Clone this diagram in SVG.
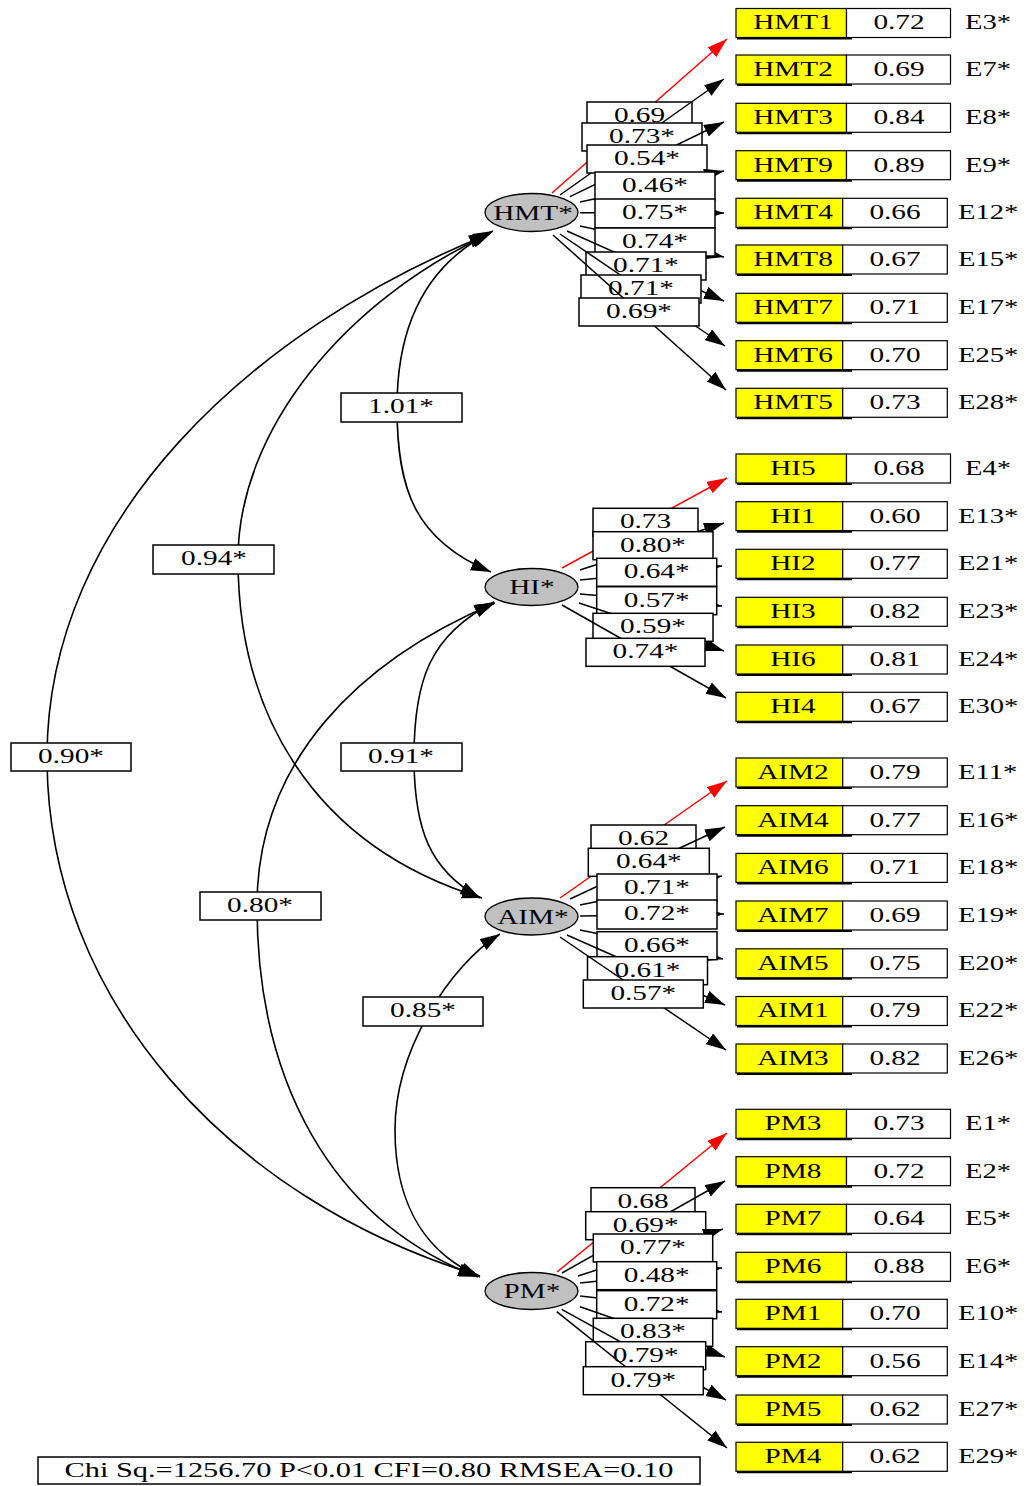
<svg xmlns="http://www.w3.org/2000/svg" width="1028" height="1486" viewBox="0 0 1028 1486">
<style>
.t{font-family:"Liberation Serif","Times New Roman",serif;font-size:22px;text-anchor:middle;fill:#000;transform-box:fill-box;transform-origin:50% 50%;transform:scaleX(1.33)}
.e{font-family:"Liberation Serif","Times New Roman",serif;font-size:22px;text-anchor:start;fill:#000;transform-box:fill-box;transform-origin:0% 50%;transform:scaleX(1.3)}
.y{fill:#ffff00;stroke:#000;stroke-width:1.2}
.w{fill:#fff;stroke:#000;stroke-width:1.2}
.sh{stroke:#000;stroke-width:2;fill:none}
.lb{fill:#fff;stroke:#000;stroke-width:1.5}
.ln{stroke:#000;stroke-width:1.5;fill:none;marker-end:url(#ah)}
.rd{stroke:#ff0000;stroke-width:1.5;fill:none;marker-end:url(#ahr)}
.cv{stroke:#000;stroke-width:1.6;fill:none;marker-start:url(#ah);marker-end:url(#ah)}
.el{fill:#c0c0c0;stroke:#000;stroke-width:1.3}
</style>
<defs>
<marker id="ah" markerUnits="userSpaceOnUse" markerWidth="22" markerHeight="14" refX="20" refY="6.5" orient="auto-start-reverse"><path d="M0,0 L20,6.5 L0,13 Z" fill="#000"/></marker>
<marker id="ahr" markerUnits="userSpaceOnUse" markerWidth="22" markerHeight="14" refX="20" refY="6.5" orient="auto"><path d="M0,0 L20,6.5 L0,13 Z" fill="#ff0000"/></marker>
</defs>
<rect width="1028" height="1486" fill="#fff"/>
<g id="connectors">
<path class="cv" d="M493,231 C430,262 397,320 397,407 C397,490 415,540 491,572"/>
<path class="cv" d="M491,233 C345,300 238,430 238,559 C238,710 310,845 482,898"/>
<path class="cv" d="M489,234 C250,330 47,520 47,757 C47,1000 230,1200 480,1276"/>
<path class="cv" d="M494,602 C430,635 414,680 414,757 C414,830 430,870 480,898"/>
<path class="cv" d="M495,603 C360,660 257,760 257,906 C257,1080 330,1220 478,1277"/>
<path class="cv" d="M500,934 C450,965 395,1050 395,1130 C395,1210 430,1255 480,1277"/>
<g id="corr-labels">
<rect class="lb" x="341" y="393" width="121" height="29"/><text class="t" x="401" y="413">1.01*</text>
<rect class="lb" x="153" y="545" width="121" height="29"/><text class="t" x="214" y="565">0.94*</text>
<rect class="lb" x="11" y="743" width="120" height="28"/><text class="t" x="71" y="763">0.90*</text>
<rect class="lb" x="341" y="743" width="121" height="28"/><text class="t" x="401" y="763">0.91*</text>
<rect class="lb" x="200" y="892" width="121" height="28"/><text class="t" x="260" y="912">0.80*</text>
<rect class="lb" x="363" y="997" width="120" height="29"/><text class="t" x="423" y="1017">0.85*</text>
</g>
<g id="HMT-loadings">
<path class="rd" d="M552,193 L727,39"/>
<rect class="lb" x="587" y="102" width="105" height="28"/><text class="t" x="639.5" y="122">0.69</text>
<path class="ln" d="M560,195 L724,79"/>
<rect class="lb" x="582" y="123" width="120" height="28"/><text class="t" x="642" y="143">0.73*</text>
<path class="ln" d="M570,196.7 L724,122"/>
<rect class="lb" x="587" y="145" width="120" height="28"/><text class="t" x="647" y="165">0.54*</text>
<path class="ln" d="M580,202 L724,171"/>
<rect class="lb" x="595" y="172" width="120" height="28"/><text class="t" x="655" y="192">0.46*</text>
<path class="ln" d="M580,212.7 L724,213"/>
<rect class="lb" x="595" y="199" width="120" height="29"/><text class="t" x="655" y="219">0.75*</text>
<path class="ln" d="M580,226 L724,257"/>
<rect class="lb" x="595" y="228" width="120" height="28"/><text class="t" x="655" y="248">0.74*</text>
<path class="ln" d="M567,231 L724,301"/>
<rect class="lb" x="586" y="252" width="120" height="28"/><text class="t" x="646" y="272">0.71*</text>
<path class="ln" d="M560,234 L725,346"/>
<rect class="lb" x="581" y="275" width="120" height="28"/><text class="t" x="641" y="295">0.71*</text>
<path class="ln" d="M553,235 L726,390"/>
<rect class="lb" x="579" y="298" width="120" height="28"/><text class="t" x="639" y="318">0.69*</text>
</g>
<g id="HI-loadings">
<path class="rd" d="M562,568 L727,478"/>
<rect class="lb" x="593" y="508.3" width="105" height="28"/><text class="t" x="645.5" y="528.3">0.73</text>
<path class="ln" d="M580,570 L724,523"/>
<rect class="lb" x="593" y="531.7" width="120" height="28"/><text class="t" x="653" y="551.7">0.80*</text>
<path class="ln" d="M580,580 L722,566"/>
<rect class="lb" x="596.7" y="558.3" width="120" height="28"/><text class="t" x="656.7" y="578.3">0.64*</text>
<path class="ln" d="M580,594 L722,606"/>
<rect class="lb" x="596.7" y="586.7" width="120" height="28"/><text class="t" x="656.7" y="606.7">0.57*</text>
<path class="ln" d="M579,603 L724,651"/>
<rect class="lb" x="593" y="613.3" width="120" height="28"/><text class="t" x="653" y="633.3">0.59*</text>
<path class="ln" d="M562,605 L726,698"/>
<rect class="lb" x="586" y="638.3" width="119" height="28"/><text class="t" x="645.5" y="658.3">0.74*</text>
</g>
<g id="AIM-loadings">
<path class="rd" d="M560,898 L727,781"/>
<rect class="lb" x="591" y="825" width="105" height="28"/><text class="t" x="643.5" y="845">0.62</text>
<path class="ln" d="M570,899 L725,827"/>
<rect class="lb" x="588.3" y="848.3" width="121" height="28"/><text class="t" x="648.8" y="868.3">0.64*</text>
<path class="ln" d="M580,905 L722,876"/>
<rect class="lb" x="597" y="874" width="120" height="28"/><text class="t" x="657" y="894">0.71*</text>
<path class="ln" d="M580,916 L724,914"/>
<rect class="lb" x="597" y="900" width="120" height="29"/><text class="t" x="657" y="920">0.72*</text>
<path class="ln" d="M580,930 L723,959"/>
<rect class="lb" x="597" y="931.7" width="120" height="28"/><text class="t" x="657" y="951.7">0.66*</text>
<path class="ln" d="M567,935 L725,1005"/>
<rect class="lb" x="587.5" y="956.7" width="120" height="28"/><text class="t" x="647.5" y="976.7">0.61*</text>
<path class="ln" d="M560,937 L726,1050"/>
<rect class="lb" x="583.3" y="980" width="120" height="28"/><text class="t" x="643.3" y="1000">0.57*</text>
</g>
<g id="PM-loadings">
<path class="rd" d="M557,1272 L727,1133"/>
<rect class="lb" x="591" y="1187.7" width="104" height="28"/><text class="t" x="643" y="1207.7">0.68</text>
<path class="ln" d="M562,1273 L725,1181"/>
<rect class="lb" x="585.7" y="1211.7" width="120" height="28"/><text class="t" x="645.7" y="1231.7">0.69*</text>
<path class="ln" d="M578,1276 L723,1229"/>
<rect class="lb" x="593.3" y="1234" width="119.4" height="28"/><text class="t" x="653" y="1254">0.77*</text>
<path class="ln" d="M580,1283 L722,1268"/>
<rect class="lb" x="596.7" y="1261.7" width="120" height="28"/><text class="t" x="656.7" y="1281.7">0.48*</text>
<path class="ln" d="M580,1296 L722,1312"/>
<rect class="lb" x="596.7" y="1290.7" width="120" height="28"/><text class="t" x="656.7" y="1310.7">0.72*</text>
<path class="ln" d="M580,1306.7 L725,1357"/>
<rect class="lb" x="593.3" y="1318.3" width="119.4" height="28"/><text class="t" x="653" y="1338.3">0.83*</text>
<path class="ln" d="M561.7,1309.3 L726,1400"/>
<rect class="lb" x="585.7" y="1341.7" width="120" height="28"/><text class="t" x="645.7" y="1361.7">0.79*</text>
<path class="ln" d="M556.7,1311.7 L727,1448"/>
<rect class="lb" x="583.3" y="1366.7" width="120" height="28"/><text class="t" x="643.3" y="1386.7">0.79*</text>
</g>
</g>
<g id="HMT"><ellipse class="el" cx="531.5" cy="212.5" rx="46.5" ry="19"/><text class="t" x="533" y="220">HMT*</text></g>
<g id="HI"><ellipse class="el" cx="531.5" cy="587" rx="46.5" ry="18.5"/><text class="t" x="532" y="594.5">HI*</text></g>
<g id="AIM"><ellipse class="el" cx="531.5" cy="916.5" rx="46.5" ry="18.5"/><text class="t" x="533" y="924">AIM*</text></g>
<g id="PM"><ellipse class="el" cx="531.5" cy="1291" rx="46.5" ry="18.5"/><text class="t" x="532" y="1298.5">PM*</text></g>
<g id="HMT1"><rect class="y" x="736" y="8.5" width="110.5" height="29"/><rect class="w" x="846.5" y="8.5" width="104" height="29"/><path class="sh" d="M737,38.5 H852"/><text class="t" x="793" y="29.5">HMT1</text><text class="t" x="899" y="29.5">0.72</text><text class="e" x="965" y="29.5">E3*</text></g>
<g id="HMT2"><rect class="y" x="736" y="55" width="110.5" height="29"/><rect class="w" x="846.5" y="55" width="104" height="29"/><path class="sh" d="M737,85 H852"/><text class="t" x="793" y="76">HMT2</text><text class="t" x="899" y="76">0.69</text><text class="e" x="965" y="76">E7*</text></g>
<g id="HMT3"><rect class="y" x="736" y="103.3" width="110.5" height="29"/><rect class="w" x="846.5" y="103.3" width="104" height="29"/><path class="sh" d="M737,133.3 H852"/><text class="t" x="793" y="124.3">HMT3</text><text class="t" x="899" y="124.3">0.84</text><text class="e" x="965" y="124.3">E8*</text></g>
<g id="HMT9"><rect class="y" x="736" y="150.7" width="110.5" height="29"/><rect class="w" x="846.5" y="150.7" width="104" height="29"/><path class="sh" d="M737,180.7 H852"/><text class="t" x="793" y="171.7">HMT9</text><text class="t" x="899" y="171.7">0.89</text><text class="e" x="965" y="171.7">E9*</text></g>
<g id="HMT4"><rect class="y" x="736" y="198.3" width="106.7" height="29"/><rect class="w" x="842.7" y="198.3" width="104.6" height="29"/><path class="sh" d="M737,228.3 H852"/><text class="t" x="793" y="219.3">HMT4</text><text class="t" x="895" y="219.3">0.66</text><text class="e" x="958" y="219.3">E12*</text></g>
<g id="HMT8"><rect class="y" x="736" y="245" width="106.7" height="29"/><rect class="w" x="842.7" y="245" width="104.6" height="29"/><path class="sh" d="M737,275 H852"/><text class="t" x="793" y="266">HMT8</text><text class="t" x="895" y="266">0.67</text><text class="e" x="958" y="266">E15*</text></g>
<g id="HMT7"><rect class="y" x="736" y="293.3" width="106.7" height="29"/><rect class="w" x="842.7" y="293.3" width="104.6" height="29"/><path class="sh" d="M737,323.3 H852"/><text class="t" x="793" y="314.3">HMT7</text><text class="t" x="895" y="314.3">0.71</text><text class="e" x="958" y="314.3">E17*</text></g>
<g id="HMT6"><rect class="y" x="736" y="340.7" width="106.7" height="29"/><rect class="w" x="842.7" y="340.7" width="104.6" height="29"/><path class="sh" d="M737,370.7 H852"/><text class="t" x="793" y="361.7">HMT6</text><text class="t" x="895" y="361.7">0.70</text><text class="e" x="958" y="361.7">E25*</text></g>
<g id="HMT5"><rect class="y" x="736" y="388.3" width="106.7" height="29"/><rect class="w" x="842.7" y="388.3" width="104.6" height="29"/><path class="sh" d="M737,418.3 H852"/><text class="t" x="793" y="409.3">HMT5</text><text class="t" x="895" y="409.3">0.73</text><text class="e" x="958" y="409.3">E28*</text></g>
<g id="HI5"><rect class="y" x="736" y="454" width="110.5" height="29"/><rect class="w" x="846.5" y="454" width="104" height="29"/><path class="sh" d="M737,484 H852"/><text class="t" x="793" y="475">HI5</text><text class="t" x="899" y="475">0.68</text><text class="e" x="965" y="475">E4*</text></g>
<g id="HI1"><rect class="y" x="736" y="501.7" width="106.7" height="29"/><rect class="w" x="842.7" y="501.7" width="104.6" height="29"/><path class="sh" d="M737,531.7 H852"/><text class="t" x="793" y="522.7">HI1</text><text class="t" x="895" y="522.7">0.60</text><text class="e" x="958" y="522.7">E13*</text></g>
<g id="HI2"><rect class="y" x="736" y="549.3" width="106.7" height="29"/><rect class="w" x="842.7" y="549.3" width="104.6" height="29"/><path class="sh" d="M737,579.3 H852"/><text class="t" x="793" y="570.3">HI2</text><text class="t" x="895" y="570.3">0.77</text><text class="e" x="958" y="570.3">E21*</text></g>
<g id="HI3"><rect class="y" x="736" y="597.3" width="106.7" height="29"/><rect class="w" x="842.7" y="597.3" width="104.6" height="29"/><path class="sh" d="M737,627.3 H852"/><text class="t" x="793" y="618.3">HI3</text><text class="t" x="895" y="618.3">0.82</text><text class="e" x="958" y="618.3">E23*</text></g>
<g id="HI6"><rect class="y" x="736" y="645" width="106.7" height="29"/><rect class="w" x="842.7" y="645" width="104.6" height="29"/><path class="sh" d="M737,675 H852"/><text class="t" x="793" y="666">HI6</text><text class="t" x="895" y="666">0.81</text><text class="e" x="958" y="666">E24*</text></g>
<g id="HI4"><rect class="y" x="736" y="692.3" width="106.7" height="29"/><rect class="w" x="842.7" y="692.3" width="104.6" height="29"/><path class="sh" d="M737,722.3 H852"/><text class="t" x="793" y="713.3">HI4</text><text class="t" x="895" y="713.3">0.67</text><text class="e" x="958" y="713.3">E30*</text></g>
<g id="AIM2"><rect class="y" x="736" y="758" width="106.7" height="29"/><rect class="w" x="842.7" y="758" width="104.6" height="29"/><path class="sh" d="M737,788 H852"/><text class="t" x="793" y="779">AIM2</text><text class="t" x="895" y="779">0.79</text><text class="e" x="958" y="779">E11*</text></g>
<g id="AIM4"><rect class="y" x="736" y="805.7" width="106.7" height="29"/><rect class="w" x="842.7" y="805.7" width="104.6" height="29"/><path class="sh" d="M737,835.7 H852"/><text class="t" x="793" y="826.7">AIM4</text><text class="t" x="895" y="826.7">0.77</text><text class="e" x="958" y="826.7">E16*</text></g>
<g id="AIM6"><rect class="y" x="736" y="853.4" width="106.7" height="29"/><rect class="w" x="842.7" y="853.4" width="104.6" height="29"/><path class="sh" d="M737,883.4 H852"/><text class="t" x="793" y="874.4">AIM6</text><text class="t" x="895" y="874.4">0.71</text><text class="e" x="958" y="874.4">E18*</text></g>
<g id="AIM7"><rect class="y" x="736" y="901" width="106.7" height="29"/><rect class="w" x="842.7" y="901" width="104.6" height="29"/><path class="sh" d="M737,931 H852"/><text class="t" x="793" y="922">AIM7</text><text class="t" x="895" y="922">0.69</text><text class="e" x="958" y="922">E19*</text></g>
<g id="AIM5"><rect class="y" x="736" y="948.8" width="106.7" height="29"/><rect class="w" x="842.7" y="948.8" width="104.6" height="29"/><path class="sh" d="M737,978.8 H852"/><text class="t" x="793" y="969.8">AIM5</text><text class="t" x="895" y="969.8">0.75</text><text class="e" x="958" y="969.8">E20*</text></g>
<g id="AIM1"><rect class="y" x="736" y="996.5" width="106.7" height="29"/><rect class="w" x="842.7" y="996.5" width="104.6" height="29"/><path class="sh" d="M737,1026.5 H852"/><text class="t" x="793" y="1017.5">AIM1</text><text class="t" x="895" y="1017.5">0.79</text><text class="e" x="958" y="1017.5">E22*</text></g>
<g id="AIM3"><rect class="y" x="736" y="1044" width="106.7" height="29"/><rect class="w" x="842.7" y="1044" width="104.6" height="29"/><path class="sh" d="M737,1074 H852"/><text class="t" x="793" y="1065">AIM3</text><text class="t" x="895" y="1065">0.82</text><text class="e" x="958" y="1065">E26*</text></g>
<g id="PM3"><rect class="y" x="736" y="1109.3" width="110.5" height="29"/><rect class="w" x="846.5" y="1109.3" width="104" height="29"/><path class="sh" d="M737,1139.3 H852"/><text class="t" x="793" y="1130.3">PM3</text><text class="t" x="899" y="1130.3">0.73</text><text class="e" x="965" y="1130.3">E1*</text></g>
<g id="PM8"><rect class="y" x="736" y="1156.7" width="110.5" height="29"/><rect class="w" x="846.5" y="1156.7" width="104" height="29"/><path class="sh" d="M737,1186.7 H852"/><text class="t" x="793" y="1177.7">PM8</text><text class="t" x="899" y="1177.7">0.72</text><text class="e" x="965" y="1177.7">E2*</text></g>
<g id="PM7"><rect class="y" x="736" y="1204.3" width="110.5" height="29"/><rect class="w" x="846.5" y="1204.3" width="104" height="29"/><path class="sh" d="M737,1234.3 H852"/><text class="t" x="793" y="1225.3">PM7</text><text class="t" x="899" y="1225.3">0.64</text><text class="e" x="965" y="1225.3">E5*</text></g>
<g id="PM6"><rect class="y" x="736" y="1252.3" width="110.5" height="29"/><rect class="w" x="846.5" y="1252.3" width="104" height="29"/><path class="sh" d="M737,1282.3 H852"/><text class="t" x="793" y="1273.3">PM6</text><text class="t" x="899" y="1273.3">0.88</text><text class="e" x="965" y="1273.3">E6*</text></g>
<g id="PM1"><rect class="y" x="736" y="1299.3" width="106.7" height="29"/><rect class="w" x="842.7" y="1299.3" width="104.6" height="29"/><path class="sh" d="M737,1329.3 H852"/><text class="t" x="793" y="1320.3">PM1</text><text class="t" x="895" y="1320.3">0.70</text><text class="e" x="958" y="1320.3">E10*</text></g>
<g id="PM2"><rect class="y" x="736" y="1346.7" width="106.7" height="29"/><rect class="w" x="842.7" y="1346.7" width="104.6" height="29"/><path class="sh" d="M737,1376.7 H852"/><text class="t" x="793" y="1367.7">PM2</text><text class="t" x="895" y="1367.7">0.56</text><text class="e" x="958" y="1367.7">E14*</text></g>
<g id="PM5"><rect class="y" x="736" y="1395" width="106.7" height="29"/><rect class="w" x="842.7" y="1395" width="104.6" height="29"/><path class="sh" d="M737,1425 H852"/><text class="t" x="793" y="1416">PM5</text><text class="t" x="895" y="1416">0.62</text><text class="e" x="958" y="1416">E27*</text></g>
<g id="PM4"><rect class="y" x="736" y="1442.3" width="106.7" height="29"/><rect class="w" x="842.7" y="1442.3" width="104.6" height="29"/><path class="sh" d="M737,1472.3 H852"/><text class="t" x="793" y="1463.3">PM4</text><text class="t" x="895" y="1463.3">0.62</text><text class="e" x="958" y="1463.3">E29*</text></g>
<g id="fit"><rect class="w" x="38" y="1457" width="662" height="27" style="stroke-width:1.5"/><text class="t" x="369" y="1477" style="transform:scaleX(1.38)">Chi Sq.=1256.70 P&lt;0.01 CFI=0.80 RMSEA=0.10</text></g>
</svg>
